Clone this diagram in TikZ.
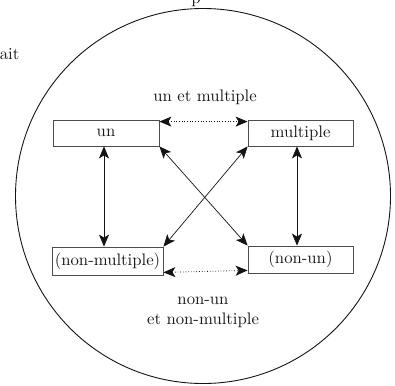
\documentclass[tikz,border=0pt]{standalone}
\usepackage{fontspec}
\setmainfont{lmroman10-regular}[Extension=.otf]
\usetikzlibrary{arrows.meta}

\definecolor{boxline}{gray}{0.3}
\definecolor{inkline}{gray}{0.08}

\tikzset{
  txt/.style={font=\fontsize{16.7}{19}\selectfont, text=black!90},
  termbox/.style={txt, draw=boxline, line width=0.8pt, inner sep=0pt,
    minimum height=26pt},
  link/.style={draw=inkline, line width=0.7pt,
    {Stealth[length=12pt,width=10pt,inset=3pt]}-{Stealth[length=12pt,width=10pt,inset=3pt]}},
  dotlink/.style={link, dotted, draw=inkline, line width=0.8pt},
}

\begin{document}
\begin{tikzpicture}[x=1pt,y=-1pt]
  \useasboundingbox (0,0) rectangle (395,385);

  % fragments of surrounding text
  \node[txt, anchor=base east, inner sep=0pt] (frag1) at (19.5,60) {ait};
  \node[txt, anchor=base] (frag2) at (196,4) {p};

  % enclosing circle
  \draw[draw=inkline, line width=0.9pt] (203,196) circle[radius=187.5];

  % the four terms
  \node[termbox, minimum width=106pt] (un) at (106,133) {un};
  \node[termbox, minimum width=105pt] (mult) at (300.5,133) {multiple};
  \node[termbox, minimum width=111pt, minimum height=28pt] (nmult) at (107.5,261) {(non-multiple)};
  \node[termbox, minimum width=105pt, minimum height=27pt] (nun) at (300.5,259.5) {(non-un)};

  % labels of the dotted relations
  \node[txt, anchor=base] (lab1) at (205,101) {un et multiple};
  \node[txt, anchor=base] (lab2) at (203,304) {non-un};
  \node[txt, anchor=base] (lab3) at (203,324) {et non-multiple};

  % dotted relations along the top and bottom
  \draw[dotlink] ([yshift=-2pt]un.north east) -- ([yshift=-2pt]mult.north west);
  \draw[dotlink] ([yshift=3pt]nmult.south east) -- ([yshift=3pt]nun.south west);

  % vertical relations
  \draw[link] ([xshift=-2pt]un.south) -- ([xshift=-3.5pt]nmult.north);
  \draw[link] ([xshift=-3.5pt]mult.south) -- ([xshift=-3.5pt]nun.north);

  % crossing diagonals
  \draw[link] (un.south east) -- (nun.north west);
  \draw[link] (mult.south west) -- (nmult.north east);
\end{tikzpicture}
\end{document}
